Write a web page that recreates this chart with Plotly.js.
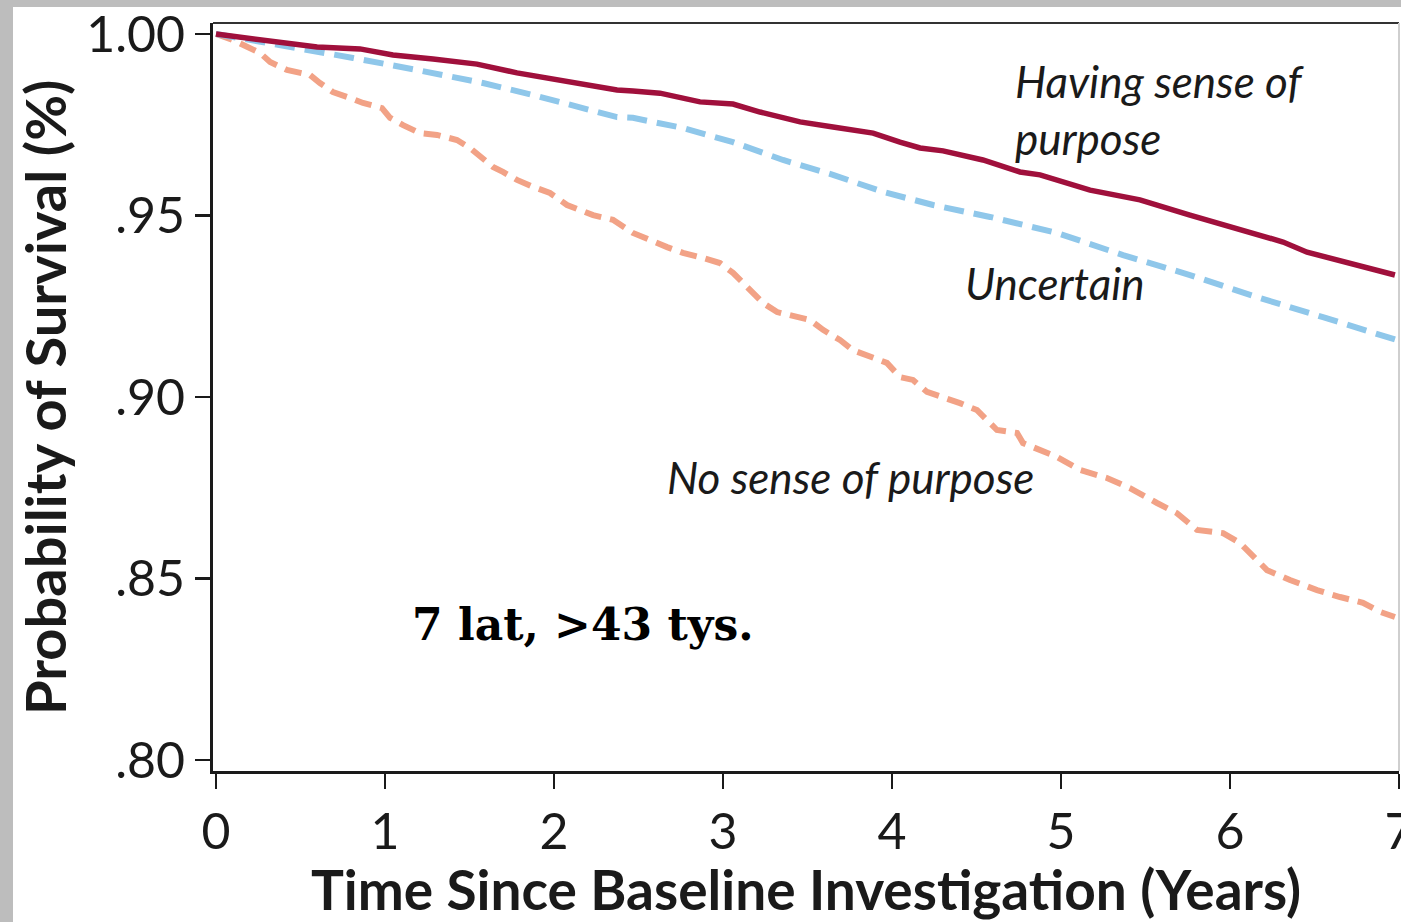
<!DOCTYPE html>
<html>
<head>
<meta charset="utf-8">
<script src="https://cdn.plot.ly/plotly-3.0.1.min.js"></script>
<style>
  html, body { margin: 0; padding: 0; width: 1401px; height: 922px; overflow: hidden; background: #bdbdbd; }
  #chart { position: absolute; left: 0; top: 0; width: 1401px; height: 922px; }
</style>
</head>
<body>
<div id="chart"></div>
<script>
// ---- Data (time in years, probability of survival) ----
const havingT = [0, 0.302, 0.598, 0.852, 1.047, 1.284, 1.544, 1.781, 2.077, 2.373, 2.467, 2.627, 2.864, 3.059, 3.219, 3.456, 3.651, 3.888, 4.047, 4.166, 4.302, 4.538, 4.757, 4.876, 5.172, 5.467, 5.763, 6.059, 6.314, 6.456, 6.751, 6.976];
const havingS = [1.000, 0.9983, 0.9964, 0.9959, 0.9942, 0.9931, 0.9917, 0.9893, 0.9868, 0.9846, 0.9843, 0.9837, 0.9813, 0.9807, 0.9785, 0.9758, 0.9744, 0.9727, 0.9702, 0.9686, 0.9678, 0.9653, 0.9620, 0.9612, 0.9570, 0.9543, 0.9501, 0.9460, 0.9427, 0.9399, 0.9364, 0.9336];

const uncertainT = [0, 0.497, 0.811, 1.189, 1.580, 1.876, 2.172, 2.373, 2.467, 2.763, 3.059, 3.355, 3.651, 3.947, 4.243, 4.580, 4.976, 5.367, 5.763, 6.160, 6.550, 7.0];
const uncertainS = [1.000, 0.9961, 0.9934, 0.9901, 0.9865, 0.9832, 0.9796, 0.9771, 0.9769, 0.9741, 0.9702, 0.9653, 0.9612, 0.9565, 0.9529, 0.9496, 0.9452, 0.9391, 0.9336, 0.9275, 0.9220, 0.9155];

const noPurposeT = [0, 0.101, 0.260, 0.320, 0.420, 0.556, 0.615, 0.692, 0.793, 0.870, 0.982, 1.030, 1.107, 1.207, 1.308, 1.426, 1.503, 1.580, 1.639, 1.698, 1.781, 1.876, 1.976, 2.077, 2.231, 2.349, 2.467, 2.669, 2.763, 2.882, 2.982, 3.059, 3.160, 3.237, 3.320, 3.456, 3.515, 3.592, 3.692, 3.769, 3.870, 3.970, 4.047, 4.124, 4.207, 4.302, 4.402, 4.503, 4.562, 4.621, 4.740, 4.775, 4.976, 5.112, 5.272, 5.408, 5.568, 5.686, 5.805, 5.959, 6.059, 6.136, 6.219, 6.355, 6.515, 6.651, 6.787, 6.888, 6.976];
const noPurposeS = [1.000, 0.9983, 0.9948, 0.9923, 0.9901, 0.9887, 0.9865, 0.9840, 0.9824, 0.9810, 0.9796, 0.9769, 0.9749, 0.9727, 0.9722, 0.9708, 0.9686, 0.9658, 0.9634, 0.9620, 0.9598, 0.9579, 0.9562, 0.9529, 0.9501, 0.9488, 0.9452, 0.9413, 0.9397, 0.9383, 0.9369, 0.9342, 0.9295, 0.9259, 0.9234, 0.9220, 0.9212, 0.9185, 0.9157, 0.9129, 0.9110, 0.9094, 0.9055, 0.9047, 0.9014, 0.9000, 0.8983, 0.8964, 0.8937, 0.8909, 0.8901, 0.8873, 0.8835, 0.8799, 0.8777, 0.8749, 0.8708, 0.8680, 0.8634, 0.8625, 0.8598, 0.8559, 0.8523, 0.8496, 0.8468, 0.8449, 0.8433, 0.8408, 0.8394];

const xTickVals = [0, 1, 2, 3, 4, 5, 6, 7];
const xTickText = ["0", "1", "2", "3", "4", "5", "6", "7"];
const yTickVals = [1.00, 0.95, 0.90, 0.85, 0.80];
const yTickText = ["1.00", ".95", ".90", ".85", ".80"];

const xTitle = "Time Since Baseline Investigation (Years)";
const yTitle = "Probability of Survival (%)";
const seriesNames = ["Having sense of purpose", "Uncertain", "No sense of purpose"];
const labelTexts = ["<i>Having sense of<br>purpose</i>", "<i>Uncertain</i>", "<i>No sense of purpose</i>"];
const labelX = [4.716, 4.42, 2.657];
const labelY = [0.9791, 0.9314, 0.878];
const noteText = "<b>7 lat, >43 tys.</b>";
const noteX = 1.148;
const noteY = 0.8372;

const ink = "#1a1a1a";
const sans = "Lato, 'Open Sans', sans-serif";

const traces = [
  { x: noPurposeT, y: noPurposeS, name: seriesNames[2], mode: "lines",
    line: { color: "#f2a286", width: 6, dash: "17px,9px" } },
  { x: uncertainT, y: uncertainS, name: seriesNames[1], mode: "lines",
    line: { color: "#8fc7ea", width: 6, dash: "20px,10px" } },
  { x: havingT, y: havingS, name: seriesNames[0], mode: "lines",
    line: { color: "#a0103c", width: 5.5 } }
];

const annFont = { family: sans, size: 44, color: ink };
const annotations = labelTexts.map((t, i) => ({
  x: labelX[i], y: labelY[i], xref: "x", yref: "y", text: t, showarrow: false,
  xanchor: "left", yanchor: "middle", align: "left", font: annFont
}));
annotations.push({
  x: noteX, y: noteY, xref: "x", yref: "y", text: noteText, showarrow: false,
  xanchor: "left", yanchor: "middle",
  font: { family: "'DejaVu Serif', serif", size: 44, color: "#000" }
});
// y-axis title placed as rotated text in the left margin
annotations.push({
  x: -0.1425, y: 0.5, xref: "paper", yref: "paper", text: yTitle, showarrow: false,
  textangle: -90, xanchor: "center", yanchor: "middle",
  font: { family: sans, size: 56, color: ink, weight: 700 }
});

const layout = {
  width: 1401, height: 922,
  margin: { l: 213, r: 2, t: 23, b: 151 },
  paper_bgcolor: "#bdbdbd", plot_bgcolor: "#ffffff",
  showlegend: false,
  hovermode: false,
  xaxis: {
    range: [-0.0178, 7.0],
    tickvals: xTickVals, ticktext: xTickText,
    ticks: "outside", ticklen: 15, tickwidth: 2.5, tickcolor: ink,
    ticklabeloverflow: "allow",
    showline: true, linewidth: 3, linecolor: ink,
    showgrid: false, zeroline: false,
    tickfont: { family: sans, size: 50, color: ink },
    title: { text: xTitle, standoff: 10,
      font: { family: sans, size: 55, color: ink, weight: 700 } }
  },
  yaxis: {
    range: [0.79697, 1.00303],
    tickvals: yTickVals, ticktext: yTickText,
    ticks: "outside", ticklen: 15, tickwidth: 2.5, tickcolor: ink,
    ticklabeloverflow: "allow",
    showline: true, linewidth: 3, linecolor: ink,
    showgrid: false, zeroline: false,
    tickfont: { family: sans, size: 50, color: ink }
  },
  shapes: [
    // white card behind the chart (grey border strips on the left and top)
    { type: "rect", xref: "paper", yref: "paper", layer: "below",
      x0: -0.16863, x1: 1.01, y0: -0.21, y1: 1.02139,
      fillcolor: "#ffffff", line: { width: 0 } },
    { type: "line", xref: "paper", yref: "paper", x0: 0, x1: 1, y0: 1, y1: 1,
      line: { color: "#333333", width: 2 } },
    { type: "line", xref: "paper", yref: "paper", x0: 1, x1: 1, y0: 0, y1: 1,
      line: { color: "#cfcfcf", width: 2 } }
  ],
  annotations: annotations
};

Plotly.newPlot("chart", traces, layout, { displayModeBar: false, staticPlot: true });
</script>
</body>
</html>
